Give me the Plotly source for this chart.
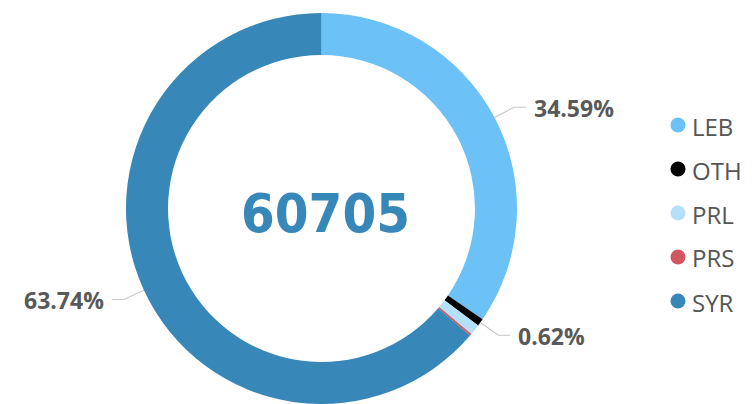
import math
import plotly.graph_objects as go

# ---- data ----
categories = ["LEB", "OTH", "PRL", "PRS", "SYR"]
counts = [20998, 376, 540, 98, 38693]
colors = ["#6cc1f6", "#000000", "#b5e0fa", "#d2565e", "#3787b9"]
labelled = ["LEB", "OTH", "SYR"]
total = sum(counts)

# ---- layout geometry (pixels, page coordinates; page body has 8px margin) ----
OFF = 8
W, H = 754 - OFF, 404 - OFF
top_px = 13 - OFF
R = (H - top_px) / 2
CX = 321.5 - OFF
CY = top_px + R

def px(x):
    return x / W

def py(y):
    return 1 - y / H

fig = go.Figure()
fig.add_trace(go.Pie(
    labels=categories,
    values=counts,
    marker=dict(colors=colors, line=dict(width=0)),
    hole=0.785,
    sort=False,
    direction="clockwise",
    rotation=0,
    textinfo="none",
    showlegend=False,
    domain=dict(x=[px(CX - R), px(CX + R)], y=[0, py(top_px)]),
))

shapes = []
annotations = []

# outside labels with leader lines
cum = 0
for cat, v in zip(categories, counts):
    frac = v / total
    mid = (cum + frac / 2) * 2 * math.pi
    cum += frac
    if cat not in labelled:
        continue
    s, c = math.sin(mid), -math.cos(mid)
    ex, ey = CX + R * s, CY + R * c
    bx, by = CX + (R + 22) * s, CY + (R + 22) * c
    side = 1 if s >= 0 else -1
    hx = bx + 12 * side
    shapes.append(dict(
        type="path", xref="paper", yref="paper",
        path=f"M {px(ex)} {py(ey)} L {px(bx)} {py(by)} L {px(hx)} {py(by)}",
        line=dict(color="#c8c8c8", width=1.2),
    ))
    annotations.append(dict(
        x=px(hx + 6 * side), y=py(by + 1), xref="paper", yref="paper",
        text=f"<b>{frac * 100:.2f}%</b>", showarrow=False,
        xanchor="left" if side > 0 else "right", yanchor="middle",
        font=dict(family="Open Sans, Segoe UI, sans-serif", size=23, color="#595959"),
    ))

# center total
annotations.append(dict(
    x=px(CX + 4), y=py(CY + 5), xref="paper", yref="paper",
    text=f"<b>{total}</b>", showarrow=False, xanchor="center", yanchor="middle",
    font=dict(family="DejaVu Sans Condensed, sans-serif", size=54, color="#3787b9"),
))

# custom legend with circle markers
leg_x = 678 - OFF
leg_y0 = 125 - OFF
leg_dy = 44
for i, (cat, col) in enumerate(zip(categories, colors)):
    y = leg_y0 + i * leg_dy
    shapes.append(dict(
        type="circle", xref="paper", yref="paper",
        x0=px(leg_x - 7.5), x1=px(leg_x + 7.5), y0=py(y + 7.5), y1=py(y - 7.5),
        fillcolor=col, line=dict(width=0),
    ))
    annotations.append(dict(
        x=px(leg_x + 12), y=py(y + 1), xref="paper", yref="paper",
        text=cat, showarrow=False, xanchor="left", yanchor="middle",
        font=dict(family="Open Sans, Segoe UI, sans-serif", size=24, color="#555555"),
    ))

fig.update_layout(
    width=W, height=H,
    margin=dict(l=0, r=0, t=0, b=0),
    paper_bgcolor="white", plot_bgcolor="white",
    shapes=shapes, annotations=annotations,
)

fig.write_html("out.html")
